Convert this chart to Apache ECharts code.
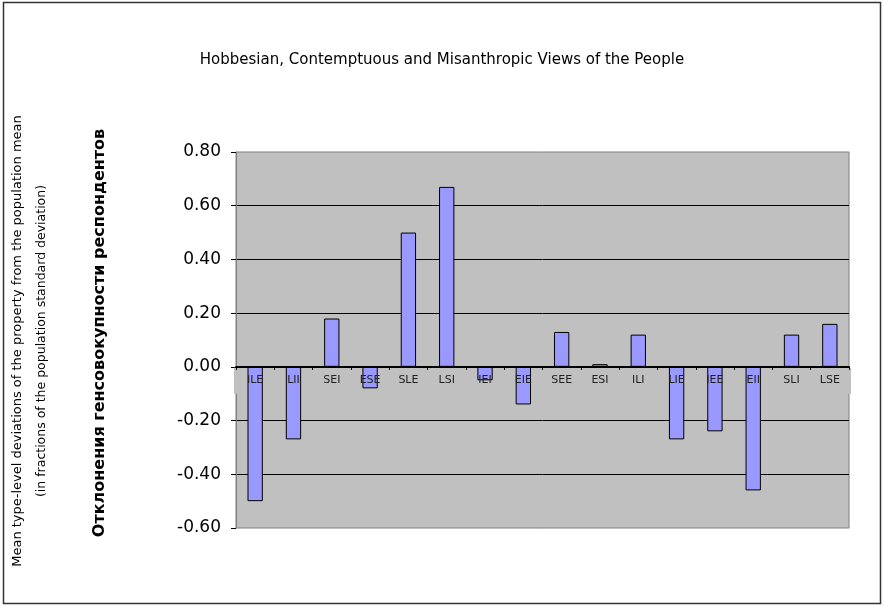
<!DOCTYPE html>
<html>
<head>
<meta charset="utf-8">
<script src="https://cdn.jsdelivr.net/npm/echarts@6/dist/echarts.min.js"></script>
<style>
  html, body { margin: 0; padding: 0; background: #fff; }
  #chart { width: 884px; height: 607px; }
</style>
</head>
<body>
<div id="chart"></div>
<script>
// socionic types, in chart order
const types = ['ILE', 'LII', 'SEI', 'ESE', 'SLE', 'LSI', 'IEI', 'EIE',
               'SEE', 'ESI', 'ILI', 'LIE', 'IEE', 'EII', 'SLI', 'LSE'];
// mean deviation from population mean, in std. dev. units
const deviations = [-0.50, -0.27, 0.18, -0.08, 0.50, 0.67, -0.05, -0.14,
                    0.13, 0.01, 0.12, -0.27, -0.24, -0.46, 0.12, 0.16];
const yTicks = { min: -0.6, max: 0.8, step: 0.2 };

const chartW = 884, chartH = 607;
const gridLeft = 236, gridRight = 35, gridTop = 152, gridBottom = 79;
const plotH = chartH - gridTop - gridBottom;
// x axis sits at value 0: shift it up from the bottom of the plot
const zeroOffset = -plotH * (0 - yTicks.min) / (yTicks.max - yTicks.min);
const zeroY = chartH - gridBottom + zeroOffset;

const chart = echarts.init(document.getElementById('chart'));

chart.setOption({
  animation: false,
  backgroundColor: '#fff',
  title: {
    text: 'Hobbesian, Contemptuous and Misanthropic Views of the People',
    left: 'center',
    top: 48,
    textStyle: { fontFamily: 'DejaVu Sans', fontSize: 15, fontWeight: 'normal', color: '#000' }
  },
  grid: {
    left: gridLeft, right: gridRight, top: gridTop, bottom: gridBottom,
    show: true, backgroundColor: '#c0c0c0', borderColor: '#808080', borderWidth: 1
  },
  xAxis: {
    type: 'category',
    data: types,
    offset: zeroOffset,
    z: 3,
    axisLine: { onZero: false, lineStyle: { color: '#000', width: 2 } },
    axisTick: { show: true, length: 3, interval: 0, lineStyle: { color: '#000' } },
    axisLabel: { interval: 0, margin: 8, fontFamily: 'DejaVu Sans', fontSize: 11, color: '#222' },
    splitLine: { show: false }
  },
  yAxis: {
    type: 'value',
    min: yTicks.min,
    max: yTicks.max,
    interval: yTicks.step,
    axisLine: { show: true, lineStyle: { color: '#808080' } },
    axisTick: { show: true, length: 5, lineStyle: { color: '#000' } },
    axisLabel: {
      margin: 15, fontFamily: 'DejaVu Sans', fontSize: 17, color: '#000',
      formatter: v => v.toFixed(2)
    },
    splitLine: { show: true, showMinLine: false, showMaxLine: false, lineStyle: { color: '#000', width: 1 } }
  },
  series: [{
    type: 'bar',
    data: deviations,
    barWidth: '40%',
    z: 2,
    itemStyle: { color: '#9999ff', borderColor: '#000', borderWidth: 1 }
  }],
  graphic: [
    {
      type: 'rect',
      shape: { x: 3.5, y: 2.5, width: 877, height: 601 },
      style: { fill: 'none', stroke: '#333', lineWidth: 1.5 },
      silent: true
    },
    {
      // grey backdrop behind the category labels
      type: 'rect',
      z: 1,
      shape: { x: gridLeft - 2, y: zeroY + 1, width: chartW - gridLeft - gridRight + 4, height: 26 },
      style: { fill: '#c0c0c0' },
      silent: true
    },
    {
      type: 'text',
      x: 18, y: 341, rotation: Math.PI / 2,
      style: {
        text: 'Mean type-level deviations of the property from the population mean',
        fontFamily: 'DejaVu Sans', fontSize: 13, fill: '#000',
        align: 'center', verticalAlign: 'middle'
      }
    },
    {
      type: 'text',
      x: 42, y: 341, rotation: Math.PI / 2,
      style: {
        text: '(in fractions of the population standard deviation)',
        fontFamily: 'DejaVu Sans', fontSize: 12.5, fill: '#000',
        align: 'center', verticalAlign: 'middle'
      }
    },
    {
      type: 'text',
      x: 100, y: 333, rotation: Math.PI / 2,
      style: {
        text: 'Отклонения генсовокупности респондентов',
        fontFamily: 'DejaVu Sans', fontSize: 16, fontWeight: 'bold', fill: '#000',
        align: 'center', verticalAlign: 'middle'
      }
    }
  ]
});
</script>
</body>
</html>
